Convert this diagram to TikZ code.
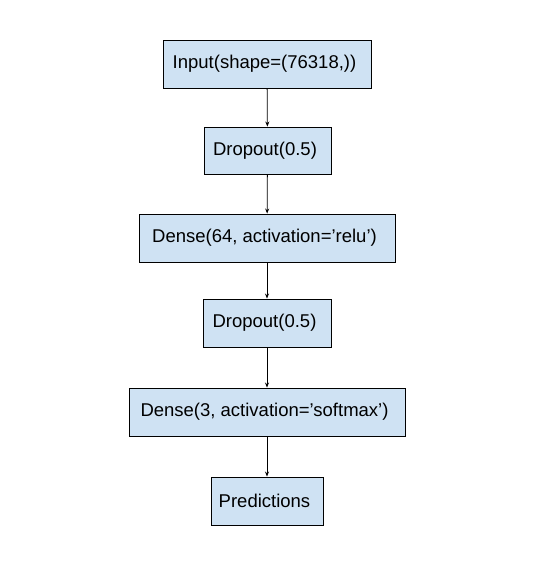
\documentclass[tikz,border=0pt]{standalone}
\usepackage{fontspec}
\setmainfont{Liberation Sans}
\usetikzlibrary{arrows.meta}
\definecolor{boxfill}{HTML}{CFE2F3}
\begin{document}
\begin{tikzpicture}[x=1pt,y=-1pt,
  layer/.style={draw=black,fill=boxfill,line width=0.9pt,inner sep=0pt,
    font=\fontsize{18.5}{22}\selectfont,anchor=center,
    execute at end node={\kern5pt}},
  conn/.style={draw=black,line width=0.8pt,-{Stealth[length=5pt,width=4pt]}}]
\useasboundingbox (0,0) rectangle (534,566);
\node[layer,minimum width=208pt,minimum height=48pt] (in) at (267,64) {Input(shape=(76318,))};
\node[layer,minimum width=127pt,minimum height=47pt] (d1) at (267.5,150.5) {Dropout(0.5)};
\node[layer,minimum width=256pt,minimum height=48pt] (h1) at (267,238) {Dense(64, activation=’relu’)};
\node[layer,minimum width=128pt,minimum height=48pt] (d2) at (267,323) {Dropout(0.5)};
\node[layer,minimum width=276pt,minimum height=48pt] (h2) at (267,412) {Dense(3, activation=’softmax’)};
\node[layer,minimum width=112pt,minimum height=48pt] (out) at (267,501) {Predictions};
\draw[conn] (in) -- (d1);
\draw[conn] (d1) -- (h1);
\draw[conn] (h1) -- (d2);
\draw[conn] (d2) -- (h2);
\draw[conn] (h2) -- (out);
\end{tikzpicture}
\end{document}
